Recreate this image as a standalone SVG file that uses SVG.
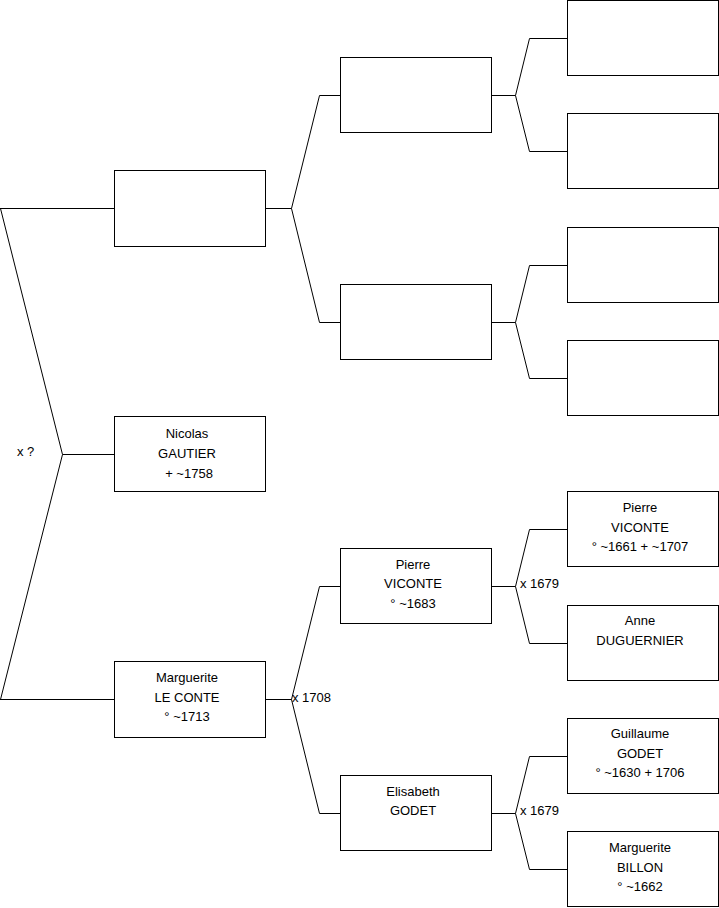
<svg xmlns="http://www.w3.org/2000/svg" width="719" height="908" viewBox="0 0 719 908">
<style>
.box{fill:#fff;stroke:#000;stroke-width:1}
.ln{fill:none;stroke:#000;stroke-width:1}
text{font-family:"Liberation Sans",Arial,sans-serif;font-size:13px;fill:#000}
.c{text-anchor:middle}
</style>
<rect width="719" height="908" fill="#fff"/>
<g id="connectors">
<path class="ln" d="M0,208.5H114.5M0.5,208.5L62.5,454.5L0.5,699.5M62.5,454.5H114.5M0,699.5H114.5"/>
<path class="ln" d="M265,208.5H291.5L319.5,95.5H340.5M291.5,208.5L319.5,322.5H340.5"/>
<path class="ln" d="M265,699.5H291.5L319.5,586.5H340.5M291.5,699.5L319.5,813.5H340.5"/>
<path class="ln" d="M492,95.5H515.5L529.5,38.5H567.5M515.5,95.5L529.5,151.5H567.5"/>
<path class="ln" d="M492,322.5H515.5L529.5,265.5H567.5M515.5,322.5L529.5,378.5H567.5"/>
<path class="ln" d="M492,586.5H515.5L529.5,529.5H567.5M515.5,586.5L529.5,643.5H567.5"/>
<path class="ln" d="M492,813.5H515.5L529.5,756.5H567.5M515.5,813.5L529.5,869.5H567.5"/>
<text x="17" y="456">x ?</text>
<text x="292" y="702">x 1708</text>
<text x="520" y="588">x 1679</text>
<text x="520" y="815">x 1679</text>
</g>
<g id="n1"><rect class="box" x="114.5" y="170.5" width="151" height="76"/></g>
<g id="n2"><rect class="box" x="114.5" y="416.5" width="151" height="75"/>
<text class="c" x="187" y="438">Nicolas</text><text class="c" x="187" y="458">GAUTIER</text><text class="c" x="189" y="478">+ ~1758</text></g>
<g id="n3"><rect class="box" x="114.5" y="661.5" width="151" height="76"/>
<text class="c" x="187" y="682">Marguerite</text><text class="c" x="187" y="702">LE CONTE</text><text class="c" x="187" y="721">° ~1713</text></g>
<g id="n4"><rect class="box" x="340.5" y="57.5" width="151" height="75"/></g>
<g id="n5"><rect class="box" x="340.5" y="284.5" width="151" height="75"/></g>
<g id="n6"><rect class="box" x="340.5" y="548.5" width="151" height="75"/>
<text class="c" x="413" y="569">Pierre</text><text class="c" x="413" y="588">VICONTE</text><text class="c" x="413" y="608">° ~1683</text></g>
<g id="n7"><rect class="box" x="340.5" y="775.5" width="151" height="75"/>
<text class="c" x="413" y="796">Elisabeth</text><text class="c" x="413" y="815">GODET</text></g>
<g id="n8"><rect class="box" x="567.5" y="0.5" width="151" height="75"/></g>
<g id="n9"><rect class="box" x="567.5" y="113.5" width="151" height="75"/></g>
<g id="n10"><rect class="box" x="567.5" y="227.5" width="151" height="75"/></g>
<g id="n11"><rect class="box" x="567.5" y="340.5" width="151" height="75"/></g>
<g id="n12"><rect class="box" x="567.5" y="491.5" width="151" height="75"/>
<text class="c" x="640" y="512">Pierre</text><text class="c" x="640" y="532">VICONTE</text><text class="c" x="640" y="551">° ~1661 + ~1707</text></g>
<g id="n13"><rect class="box" x="567.5" y="605.5" width="151" height="75"/>
<text class="c" x="640" y="625">Anne</text><text class="c" x="640" y="645">DUGUERNIER</text></g>
<g id="n14"><rect class="box" x="567.5" y="718.5" width="151" height="75"/>
<text class="c" x="640" y="738">Guillaume</text><text class="c" x="640" y="758">GODET</text><text class="c" x="640" y="777">° ~1630 + 1706</text></g>
<g id="n15"><rect class="box" x="567.5" y="831.5" width="151" height="75"/>
<text class="c" x="640" y="852">Marguerite</text><text class="c" x="640" y="872">BILLON</text><text class="c" x="640" y="891">° ~1662</text></g>
</svg>
